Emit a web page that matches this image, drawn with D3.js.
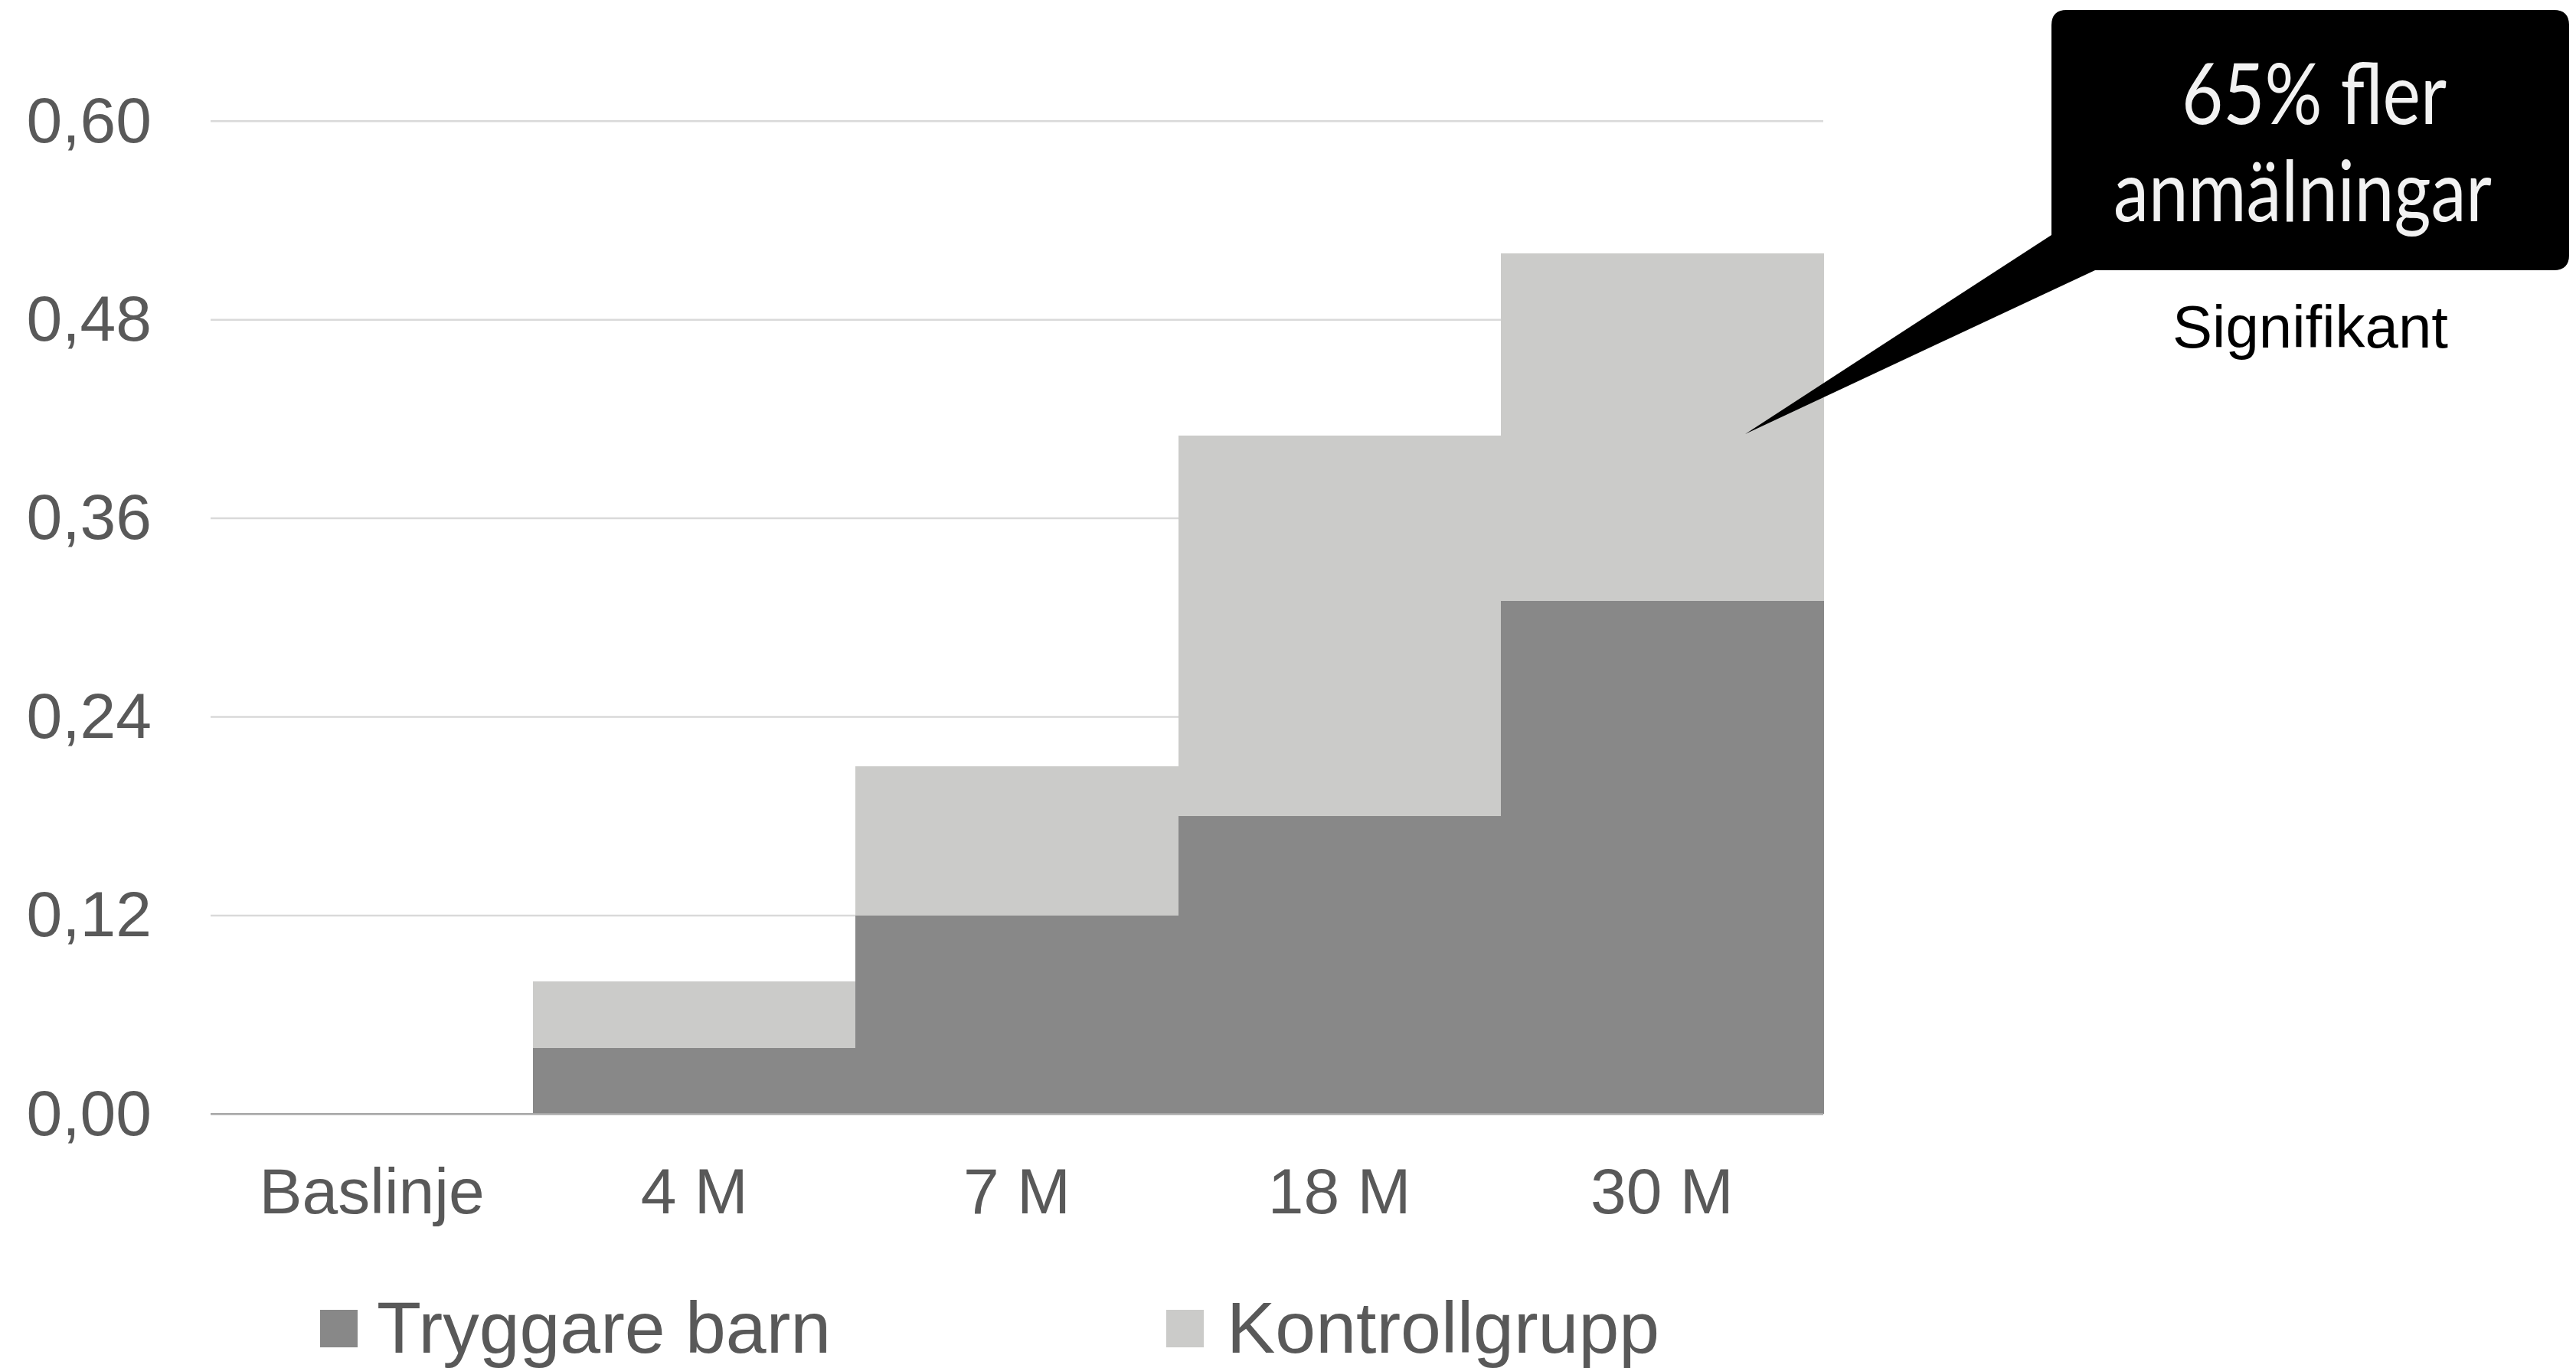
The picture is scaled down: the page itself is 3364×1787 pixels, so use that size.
<!DOCTYPE html>
<html>
<head>
<meta charset="utf-8">
<script src="https://cdn.jsdelivr.net/npm/d3@7"></script>
<style>
  html, body { margin: 0; padding: 0; background: #ffffff; }
  svg { display: block; }
</style>
</head>
<body>
<svg id="chart" width="3364" height="1787"></svg>
<script>
// ---- data ----
const categories = ["Baslinje", "4 M", "7 M", "18 M", "30 M"];
const tryggareBarn = [0, 0.04, 0.12, 0.18, 0.31];
const kontrollgrupp = [0, 0.08, 0.21, 0.41, 0.52];
const yTicks = [0, 0.12, 0.24, 0.36, 0.48, 0.60];
const seriesNames = ["Tryggare barn", "Kontrollgrupp"];
const calloutLines = ["65% fler", "anmälningar"];
const calloutNote = "Signifikant";

// ---- styles ----
const darkColor = "#888888";
const lightColor = "#cbcbc9";
const textColor = "#595959";
const gridColor = "#d9d9d9";
const axisColor = "#a6a6a6";
const sansFont = "'Liberation Sans', Arial, sans-serif";

const svg = d3.select("#chart");
const W = 3364, H = 1787;
svg.append("rect").attr("width", W).attr("height", H).attr("fill", "#ffffff");

const plotLeft = 275, plotRight = 2381, plotTop = 158.3, plotBottom = 1455.3;

const x = d3.scaleBand().domain(categories).range([plotLeft, plotRight]).padding(0);
const y = d3.scaleLinear().domain([0, 0.6]).range([plotBottom, plotTop]);

const sv = d3.formatLocale({decimal: ",", thousands: " ", grouping: [3], currency: ["", " kr"]});
const fmt = sv.format(".2f");

// gridlines
svg.append("g")
  .selectAll("line")
  .data(yTicks.filter(d => d > 0))
  .join("line")
  .attr("x1", plotLeft).attr("x2", plotRight)
  .attr("y1", d => y(d)).attr("y2", d => y(d))
  .attr("stroke", gridColor).attr("stroke-width", 2.5);

// bars: Kontrollgrupp behind, Tryggare barn in front
const rows = categories.map((c, i) => ({cat: c, t: tryggareBarn[i], k: kontrollgrupp[i]}));
svg.append("g").attr("shape-rendering", "crispEdges").selectAll("rect")
  .data(rows).join("rect")
  .attr("x", d => x(d.cat)).attr("width", x.bandwidth() + 1)
  .attr("y", d => y(d.k)).attr("height", d => y(0) - y(d.k))
  .attr("fill", lightColor);
svg.append("g").attr("shape-rendering", "crispEdges").selectAll("rect")
  .data(rows).join("rect")
  .attr("x", d => x(d.cat)).attr("width", x.bandwidth() + 1)
  .attr("y", d => y(d.t)).attr("height", d => y(0) - y(d.t))
  .attr("fill", darkColor);

// zero axis line
svg.append("line")
  .attr("x1", plotLeft).attr("x2", plotRight)
  .attr("y1", y(0)).attr("y2", y(0))
  .attr("stroke", axisColor).attr("stroke-width", 2.5);

// y axis labels
const yAxis = svg.append("g")
  .attr("transform", `translate(${plotLeft},0)`)
  .call(d3.axisLeft(y).tickValues(yTicks).tickFormat(fmt).tickSize(0).tickPadding(77));
yAxis.select(".domain").remove();
yAxis.selectAll("text")
  .attr("font-family", sansFont).attr("font-size", 84).attr("fill", textColor);

// x axis labels
const xAxis = svg.append("g")
  .attr("transform", `translate(0,${plotBottom})`)
  .call(d3.axisBottom(x).tickSize(0).tickPadding(70));
xAxis.select(".domain").remove();
xAxis.selectAll("text")
  .attr("font-family", sansFont).attr("font-size", 84).attr("fill", textColor);

// legend
const legend = [
  {name: seriesNames[0], color: darkColor, sx: 418, tx: 492},
  {name: seriesNames[1], color: lightColor, sx: 1523, tx: 1602}
];
const lg = svg.append("g");
lg.selectAll("rect").data(legend).join("rect")
  .attr("x", d => d.sx).attr("y", 1711).attr("width", 49).attr("height", 49)
  .attr("fill", d => d.color);
lg.selectAll("text").data(legend).join("text")
  .attr("x", d => d.tx).attr("y", 1766.5)
  .attr("font-family", sansFont).attr("font-size", 95).attr("fill", textColor)
  .text(d => d.name);

// callout
const bx0 = 2679, bx1 = 3355, by0 = 13, by1 = 353, r = 20;
const tipX = 2279, tipY = 567;
const p = d3.path();
p.moveTo(bx0 + r, by0);
p.lineTo(bx1 - r, by0);
p.quadraticCurveTo(bx1, by0, bx1, by0 + r);
p.lineTo(bx1, by1 - r);
p.quadraticCurveTo(bx1, by1, bx1 - r, by1);
p.lineTo(2736, by1);
p.lineTo(tipX, tipY);
p.lineTo(bx0, 307);
p.lineTo(bx0, by0 + r);
p.quadraticCurveTo(bx0, by0, bx0 + r, by0);
p.closePath();
svg.append("path").attr("d", p.toString()).attr("fill", "#000000");

const cx = 3017;
const calloutG = svg.append("g")
  .attr("font-family", "Lato, 'Open Sans', sans-serif")
  .attr("font-size", 110).attr("fill", "#f2f2f2").attr("text-anchor", "middle");
calloutG.append("text").attr("x", 3022).attr("y", 161.5)
  .attr("textLength", 346).attr("lengthAdjust", "spacingAndGlyphs")
  .text(calloutLines[0]);
calloutG.append("text").attr("x", 3007).attr("y", 289)
  .attr("textLength", 494).attr("lengthAdjust", "spacingAndGlyphs")
  .text(calloutLines[1]);

svg.append("text")
  .attr("x", cx).attr("y", 454)
  .attr("text-anchor", "middle")
  .attr("font-family", sansFont).attr("font-size", 78).attr("fill", "#000000")
  .text(calloutNote);
</script>
</body>
</html>
